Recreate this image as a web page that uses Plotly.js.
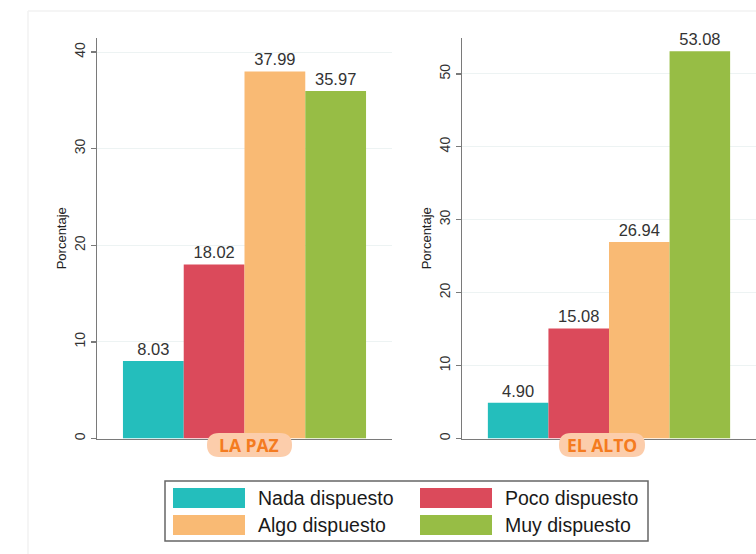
<!DOCTYPE html>
<html><head><meta charset="utf-8">
<script src="https://cdn.plot.ly/plotly-3.0.1.min.js"></script>
<style>html,body{margin:0;padding:0;background:#fff}#chart{width:756px;height:554px}</style>
</head><body><div id="chart"></div>
<script>
const regions = ["LA PAZ", "EL ALTO"];
const seriesNames = ["Nada dispuesto", "Poco dispuesto", "Algo dispuesto", "Muy dispuesto"];
const seriesColors = ["#24BEBC", "#DB4A5B", "#F9BA74", "#97BD45"];
const laPaz = [8.03, 18.02, 37.99, 35.97];
const elAlto = [4.90, 15.08, 26.94, 53.08];
const yTitle = "Porcentaje";

const W = 756, H = 554;
const px = x => x / W;
const py = y => 1 - y / H;

const panels = [
  {vals: laPaz, xa: 'x', ya: 'y', name: regions[0]},
  {vals: elAlto, xa: 'x2', ya: 'y2', name: regions[1]}
];
const traces = [];
panels.forEach((p, pi) => {
  seriesNames.forEach((s, i) => {
    traces.push({
      type: 'bar', x: [p.name], y: [p.vals[i]], name: s,
      xaxis: p.xa, yaxis: p.ya,
      marker: {color: seriesColors[i], line: {width: 0}},
      text: [p.vals[i].toFixed(2)], textposition: 'outside', cliponaxis: false,
      textfont: {family: 'Liberation Sans, Arial, sans-serif', size: 16.5, color: '#333'},
      showlegend: false, hoverinfo: 'skip'
    });
  });
});

const yDom = [py(438.5), py(38)];
const yaxisBase = {
  domain: yDom, showline: true, linecolor: '#7a7a7a', linewidth: 1.5,
  ticks: 'outside', ticklen: 5, tickcolor: '#7a7a7a', tickwidth: 1.5,
  tickangle: -90, tickfont: {family: 'Liberation Sans, Arial, sans-serif', size: 14, color: '#333'},
  showgrid: true, gridcolor: '#EDF3F3', gridwidth: 1, zeroline: false,
  title: {text: yTitle, font: {family: 'Liberation Sans, Arial, sans-serif', size: 13, color: '#222'}, standoff: 2},
  fixedrange: true
};
const xaxisBase = {
  showline: true, linecolor: '#7a7a7a', linewidth: 1.5, showticklabels: false,
  ticks: '', showgrid: false, zeroline: false, fixedrange: true
};

const shapes = [];
const annotations = [];
// faint outer frame
shapes.push({type: 'line', xref: 'paper', yref: 'paper', x0: px(28), x1: 1, y0: py(11), y1: py(11), line: {color: '#F2F2F2', width: 1.5}});
shapes.push({type: 'line', xref: 'paper', yref: 'paper', x0: px(28), x1: px(28), y0: py(11), y1: 0, line: {color: '#F2F2F2', width: 1.5}});

// region pills
const pills = [{x0: 207, x1: 292, label: regions[0]}, {x0: 559, x1: 645, label: regions[1]}];
pills.forEach(p => {
  const y0 = 433, y1 = 457, r = 12;
  const X0 = px(p.x0), X1 = px(p.x1), Y0 = py(y1), Y1 = py(y0);
  const rx = r / W, ry = r / H;
  const path = `M ${X0 + rx} ${Y0} L ${X1 - rx} ${Y0} Q ${X1} ${Y0} ${X1} ${Y0 + ry} L ${X1} ${Y1 - ry} Q ${X1} ${Y1} ${X1 - rx} ${Y1} L ${X0 + rx} ${Y1} Q ${X0} ${Y1} ${X0} ${Y1 - ry} L ${X0} ${Y0 + ry} Q ${X0} ${Y0} ${X0 + rx} ${Y0} Z`;
  shapes.push({type: 'path', xref: 'paper', yref: 'paper', path: path, fillcolor: '#FCCDAB', line: {width: 0}, layer: 'above'});
  annotations.push({xref: 'paper', yref: 'paper', x: (X0 + X1) / 2, y: (Y0 + Y1) / 2, text: '<b>' + p.label + '</b>',
    showarrow: false, xanchor: 'center', yanchor: 'middle',
    font: {family: 'Open Sans, Liberation Sans, sans-serif', size: 17.5, color: '#F47B20'}});
});

// legend box
shapes.push({type: 'rect', xref: 'paper', yref: 'paper', x0: px(165), x1: px(648), y0: py(541), y1: py(481), line: {color: '#666', width: 1.5}, fillcolor: 'rgba(0,0,0,0)'});
const legPos = [[173, 488], [420, 488], [173, 515], [420, 515]];
seriesNames.forEach((s, i) => {
  const [lx, ly] = legPos[i];
  shapes.push({type: 'rect', xref: 'paper', yref: 'paper', x0: px(lx), x1: px(lx + 72), y0: py(ly + 20), y1: py(ly), line: {width: 0}, fillcolor: seriesColors[i]});
  annotations.push({xref: 'paper', yref: 'paper', x: px(lx + 83), y: py(ly + 10), text: s, showarrow: false,
    xanchor: 'left', yanchor: 'middle', font: {family: 'Liberation Sans, Arial, sans-serif', size: 19.5, color: '#1a1a1a'}});
});

const layout = {
  width: W, height: H, margin: {l: 0, r: 0, t: 0, b: 0},
  paper_bgcolor: '#fff', plot_bgcolor: '#fff',
  barmode: 'group', bargap: 0.176, bargroupgap: 0,
  showlegend: false,
  xaxis: Object.assign({}, xaxisBase, {domain: [px(97), px(392)], anchor: 'y'}),
  xaxis2: Object.assign({}, xaxisBase, {domain: [px(462), 1], anchor: 'y2'}),
  yaxis: Object.assign({}, yaxisBase, {anchor: 'x', range: [0, 41.45], tickvals: [0, 10, 20, 30, 40]}),
  yaxis2: Object.assign({}, yaxisBase, {anchor: 'x2', range: [0, 54.9], tickvals: [0, 10, 20, 30, 40, 50]}),
  shapes: shapes, annotations: annotations
};
Plotly.newPlot('chart', traces, layout, {staticPlot: true, displayModeBar: false});
</script></body></html>
